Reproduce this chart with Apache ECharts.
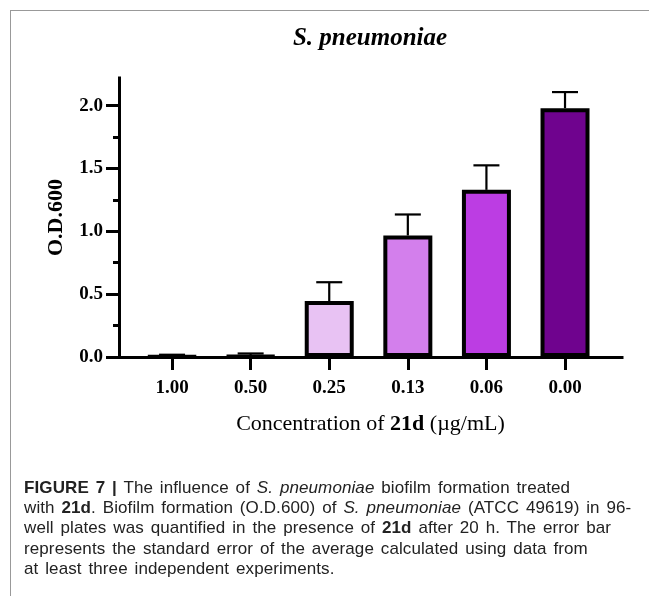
<!DOCTYPE html>
<html>
<head>
<meta charset="utf-8">
<title>S. pneumoniae biofilm</title>
<script src="https://cdn.jsdelivr.net/npm/echarts@6/dist/echarts.min.js"></script>
<style>
  html, body { margin: 0; padding: 0; background: #fff; }
  #wrap { position: relative; width: 649px; height: 596px; overflow: hidden; }
  #chart { position: absolute; left: 0; top: 0; width: 649px; height: 596px; }
  .frameTop { position: absolute; left: 10px; top: 10px; width: 639px; height: 0; border-top: 1.5px solid #999; }
  .frameLeft { position: absolute; left: 10px; top: 10px; width: 0; height: 586px; border-left: 1.5px solid #999; }
  #caption {
    position: absolute; left: 24px; top: 478px; width: 625px;
    font-family: "Liberation Sans", Arial, sans-serif; font-size: 17px;
    word-spacing: 2px; letter-spacing: 0.1px; line-height: 20.2px; color: #222; white-space: nowrap;
  }
</style>
</head>
<body>
<div id="wrap">
  <div id="chart"></div>
  <div class="frameTop"></div>
  <div class="frameLeft"></div>
  <div id="caption">
    <b>FIGURE 7 |</b> The influence of <i>S. pneumoniae</i> biofilm formation treated<br>
    with <b>21d</b>. Biofilm formation (O.D.600) of <i>S. pneumoniae</i> (ATCC 49619) in 96-<br>
    well plates was quantified in the presence of <b>21d</b> after 20 h. The error bar<br>
    represents the standard error of the average calculated using data from<br>
    at least three independent experiments.
  </div>
</div>
<script>
// concentration of 21d (µg/mL)
var categories = ['1.00', '0.50', '0.25', '0.13', '0.06', '0.00'];
// mean O.D.600 and standard error
var odMeans = [0.004, 0.006, 0.445, 0.967, 1.33, 1.98];
var odErrors = [0.014, 0.022, 0.15, 0.167, 0.195, 0.128];
var barColors = ['#f4e4f9', '#efd6f7', '#e8c2f3', '#d37fec', '#bc3de3', '#6f038e'];
var yTicks = [0, 0.5, 1.0, 1.5, 2.0];
var yMinorTicks = [0.25, 0.75, 1.25, 1.75];

var serif = '"Liberation Serif", "Times New Roman", serif';
var chart = echarts.init(document.getElementById('chart'));

var barData = odMeans.map(function (v, i) {
  return { value: [i, v], itemStyle: { color: barColors[i] } };
});
var errData = odMeans.map(function (v, i) {
  return [i, v, v + odErrors[i]];
});

var option = {
  animation: false,
  title: {
    text: 'S. pneumoniae',
    left: 365,
    top: 21,
    textAlign: 'center',
    textStyle: { fontFamily: serif, fontSize: 25, fontWeight: 'bold', fontStyle: 'italic', color: '#000' }
  },
  grid: { left: 119, right: 27, top: 78, bottom: 239 },
  xAxis: {
    type: 'value',
    min: -0.675,
    max: 5.725,
    splitLine: { show: false },
    axisLine: { show: true, onZero: false, lineStyle: { color: '#000', width: 3, cap: 'square' } },
    axisTick: { show: true, length: 13, lineStyle: { color: '#000', width: 3 }, customValues: [0, 1, 2, 3, 4, 5] },
    axisLabel: {
      customValues: [0, 1, 2, 3, 4, 5],
      formatter: function (v) { return categories[Math.round(v)]; },
      margin: 22,
      fontFamily: serif, fontSize: 19, fontWeight: 'bold', color: '#000'
    },
    name: 'Concentration of {b|21d} (µg/mL)',
    nameLocation: 'middle',
    nameGap: 56,
    nameTextStyle: {
      fontFamily: serif, fontSize: 22, color: '#000',
      rich: { b: { fontFamily: serif, fontSize: 22, fontWeight: 'bold', color: '#000' } }
    }
  },
  yAxis: [{
    type: 'value',
    min: 0,
    max: 2.22,
    interval: 0.5,
    splitLine: { show: false },
    axisLine: { show: true, onZero: false, lineStyle: { color: '#000', width: 3, cap: 'square' } },
    axisTick: { show: true, length: 13, lineStyle: { color: '#000', width: 3 }, customValues: yTicks },
    axisLabel: {
      customValues: yTicks,
      formatter: function (v) { return v.toFixed(1); },
      margin: 16,
      fontFamily: serif, fontSize: 19, fontWeight: 'bold', color: '#000'
    },
    name: 'O.D.600',
    nameLocation: 'middle',
    nameGap: 52,
    nameTextStyle: { fontFamily: serif, fontSize: 22, fontWeight: 'bold', color: '#000' }
  }, {
    // minor ticks only
    type: 'value',
    position: 'left',
    offset: 0,
    min: 0,
    max: 2.22,
    splitLine: { show: false },
    axisLine: { show: false, onZero: false },
    axisTick: { show: true, length: 6, lineStyle: { color: '#000', width: 3 }, customValues: yMinorTicks },
    axisLabel: { show: false }
  }],
  series: [{
    type: 'bar',
    barWidth: 49,
    data: barData,
    itemStyle: { borderColor: '#000', borderWidth: 4 }
  }, {
    type: 'custom',
    z: 5,
    data: errData,
    renderItem: function (params, api) {
      var lo = api.coord([api.value(0), api.value(1)]);
      var hi = api.coord([api.value(0), api.value(2)]);
      var half = 13;
      var st = { stroke: '#000', lineWidth: 2.2 };
      return {
        type: 'group',
        children: [
          { type: 'line', shape: { x1: lo[0], y1: lo[1], x2: hi[0], y2: hi[1] }, style: st },
          { type: 'line', shape: { x1: hi[0] - half, y1: hi[1], x2: hi[0] + half, y2: hi[1] }, style: st }
        ]
      };
    }
  }]
};

chart.setOption(option);
</script>
</body>
</html>
